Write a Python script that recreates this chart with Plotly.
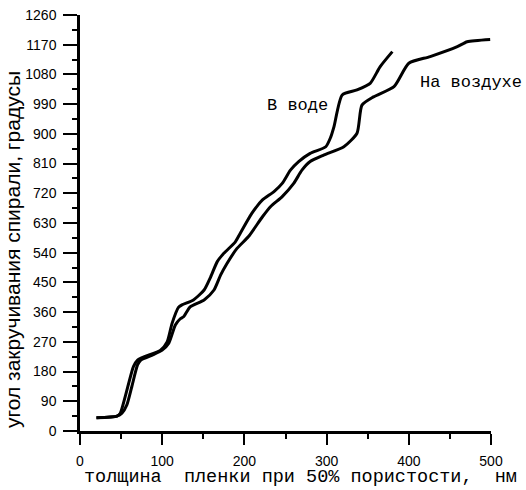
import plotly.graph_objects as go

# Data
water_x = [20, 45, 49, 55, 65, 70, 98, 106, 112, 120, 124, 138, 151, 159, 167, 175, 189, 195, 209, 222, 236, 246, 256, 266, 280, 299, 305, 309, 319, 337, 353, 365, 380]
water_y = [40, 45, 54, 104, 195, 215, 245, 270, 326, 375, 382, 397, 427, 467, 513, 538, 573, 599, 659, 700, 725, 750, 790, 816, 841, 861, 890, 922, 1018, 1033, 1053, 1103, 1149]

air_x = [20, 45, 51, 57, 63, 70, 74, 88, 100, 108, 116, 122, 126, 134, 151, 163, 171, 179, 191, 205, 222, 232, 246, 260, 270, 280, 297, 321, 337, 343, 357, 382, 400, 426, 459, 471, 499]
air_y = [40, 45, 54, 79, 134, 200, 215, 230, 245, 266, 321, 340, 346, 376, 397, 427, 472, 508, 553, 589, 649, 680, 710, 750, 790, 816, 836, 861, 902, 987, 1012, 1043, 1114, 1134, 1164, 1179, 1186]

x_ticks = [0, 100, 200, 300, 400, 500]
y_ticks = [0, 90, 180, 270, 360, 450, 540, 630, 720, 810, 900, 990, 1080, 1170, 1260]

label_water = "В воде"
label_air = "На воздухе"
x_title = "толщина  пленки при 50% пористости,  нм".replace(" ", "\u00a0")
y_title = "угол закручивания спирали, градусы"

W, H = 526, 490
L, R, T, B = 80, 35, 15, 59
PW, PH = W - L - R, H - T - B


def px(x, y):
    return (x - L) / PW, (H - B - y) / PH


fig = go.Figure()
fig.add_trace(go.Scatter(x=water_x, y=water_y, mode="lines", name=label_water,
                         line=dict(color="black", width=3, shape="spline", smoothing=0.6)))
fig.add_trace(go.Scatter(x=air_x, y=air_y, mode="lines", name=label_air,
                         line=dict(color="black", width=3, shape="spline", smoothing=0.6)))

fig.update_layout(
    width=W, height=H,
    margin=dict(l=L, r=R, t=T, b=B, autoexpand=False),
    paper_bgcolor="white", plot_bgcolor="white",
    showlegend=False,
    font=dict(family="Liberation Sans", color="black"),
)
fig.update_xaxes(
    range=[0, 500], tickvals=x_ticks, ticktext=[str(v) for v in x_ticks],
    showgrid=False, zeroline=False, showline=True, linecolor="black", linewidth=2.5,
    ticks="outside", ticklen=11, tickwidth=1.5, tickcolor="black",
    minor=dict(dtick=50, ticks="outside", ticklen=5, tickwidth=1.5, tickcolor="black", showgrid=False),
    tickfont=dict(family="Liberation Sans", size=14, color="black"),
    ticklabelstandoff=4, automargin=False, ticklabeloverflow="allow",
)
fig.update_yaxes(
    range=[0, 1260], tickvals=y_ticks, ticktext=[str(v) for v in y_ticks],
    showgrid=False, zeroline=False, showline=True, linecolor="black", linewidth=2.5,
    ticks="outside", ticklen=14, tickwidth=1.5, tickcolor="black",
    minor=dict(dtick=45, ticks="outside", ticklen=5, tickwidth=1.5, tickcolor="black", showgrid=False),
    tickfont=dict(family="Liberation Sans", size=14, color="black"),
    ticklabelstandoff=4, automargin=False, ticklabeloverflow="allow",
)


def ann(text, x, y, size, family, xanchor="center", angle=0):
    ax, ay = px(x, y)
    fig.add_annotation(text=text, x=ax, y=ay, xref="paper", yref="paper",
                       showarrow=False, xanchor=xanchor, yanchor="middle", textangle=angle,
                       font=dict(family=family, size=size, color="black"))


ann(label_water, 297, 105, 17, "Liberation Mono")
ann(label_air, 418, 82, 17, "Liberation Mono", xanchor="left")
ann(x_title, 300, 477, 18.5, "Liberation Mono")
ann(y_title, 12, 250, 21, "Liberation Sans", angle=-90)

fig.write_html("out.html", config={"displayModeBar": False},
               post_script="document.body.style.margin='0';")
